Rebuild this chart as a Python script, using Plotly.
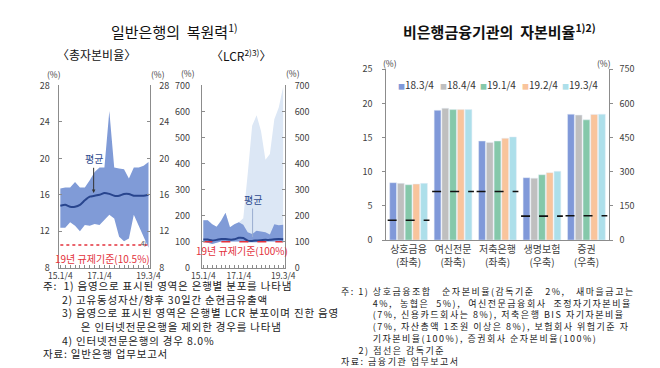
import plotly.graph_objects as go

W, H = 660, 368
def px(x): return x / W
def py(y): return 1 - y / H

FONT = "Noto Sans CJK KR, Noto Sans, sans-serif"
TICK_C = "#404040"
AXIS_C = "#8c8c8c"

# ---------------- data ----------------
quarters = ["15.1/4", "15.2/4", "15.3/4", "15.4/4", "16.1/4", "16.2/4", "16.3/4", "16.4/4",
            "17.1/4", "17.2/4", "17.3/4", "17.4/4", "18.1/4", "18.2/4", "18.3/4", "18.4/4",
            "19.1/4", "19.2/4", "19.3/4"]
quarter_ticks = ["15.1/4", "17.1/4", "19.3/4"]

# 총자본비율 (%)
car_max = [16.7, 16.8, 16.8, 17.4, 16.8, 16.8, 17.6, 18.5, 19.0, 19.0, 25.2, 19.0, 18.9, 18.8, 17.8, 19.0, 19.0, 19.2, 19.6]
car_min = [12.4, 12.4, 13.0, 12.6, 12.0, 12.7, 12.6, 12.8, 12.7, 13.3, 13.8, 13.4, 11.4, 10.9, 11.2, 13.8, 12.6, 11.4, 10.2]
car_mean = [14.8, 14.9, 14.7, 14.7, 14.9, 15.4, 15.8, 15.9, 16.0, 16.2, 16.1, 15.9, 15.9, 16.1, 16.1, 15.9, 15.9, 15.9, 16.0]
car_reg = 10.5

# LCR (%)
lcr_all_max = [182, 182, 167, 157, 180, 211, 155, 167, 175, 190, 360, 545, 585, 525, 415, 437, 570, 615, 695]
lcr_max = [182, 182, 167, 157, 180, 211, 155, 167, 175, 165, 136, 130, 142, 140, 136, 128, 167, 163, 165]
lcr_min = [101, 96, 91, 96, 101, 101, 101, 101, 101, 101, 98, 97, 98, 101, 101, 101, 101, 101, 101]
lcr_mean = [108, 108, 105, 107, 110, 110, 108, 109, 115, 114, 104, 103, 105, 106, 107, 107, 109, 110, 109]
lcr_reg = 100

# 비은행금융기관 자본비율
periods = ["18.3/4", "18.4/4", "19.1/4", "19.2/4", "19.3/4"]
bar_categories = ["상호금융", "여신전문", "저축은행", "생명보험", "증권"]
bar_axis_notes = ["(좌축)", "(좌축)", "(좌축)", "(우축)", "(우축)"]
bar_is_left = [True, True, True, False, False]
v_18_3 = [8.4, 19.0, 14.5, 274, 553]
v_18_4 = [8.3, 19.3, 14.3, 272, 549]
v_19_1 = [8.1, 19.1, 14.5, 287, 528]
v_19_2 = [8.2, 19.1, 14.9, 296, 552]
v_19_3 = [8.3, 19.1, 15.1, 302, 553]
bar_values = [v_18_3, v_18_4, v_19_1, v_19_2, v_19_3]
bar_standards = [2.9, 7.1, 7.1, 105, 107]
bar_colors = ["#8099d9", "#bfbfbf", "#85c8aa", "#f9c49c", "#addfea"]

BAND = "#809bd7"
LIGHT = "#dce7f5"
NAVY = "#28458e"
RED = "#e3323c"

xi = list(range(len(quarters)))
tick_idx = [quarters.index(q) for q in quarter_ticks]

fig = go.Figure()

# ---------------- panel 1 ----------------
fig.add_trace(go.Scatter(x=xi, y=car_min, mode="lines", line=dict(width=0), xaxis="x", yaxis="y",
                         showlegend=False, hoverinfo="skip"))
fig.add_trace(go.Scatter(x=xi, y=car_max, mode="lines", line=dict(width=0), fill="tonexty",
                         fillcolor=BAND, xaxis="x", yaxis="y", showlegend=False))
fig.add_trace(go.Scatter(x=xi, y=car_mean, mode="lines",
                         line=dict(color=NAVY, width=2, shape="spline", smoothing=0.5),
                         xaxis="x", yaxis="y", showlegend=False))
fig.add_trace(go.Scatter(x=[xi[0], xi[-1]], y=[car_reg, car_reg], mode="lines",
                         line=dict(color=RED, width=1.5, dash="dot"),
                         xaxis="x", yaxis="y2", showlegend=False))

# ---------------- panel 2 ----------------
fig.add_trace(go.Scatter(x=xi, y=lcr_min, mode="lines", line=dict(width=0), xaxis="x2", yaxis="y3",
                         showlegend=False, hoverinfo="skip"))
fig.add_trace(go.Scatter(x=xi, y=lcr_all_max, mode="lines", line=dict(width=0), fill="tonexty",
                         fillcolor=LIGHT, xaxis="x2", yaxis="y3", showlegend=False))
fig.add_trace(go.Scatter(x=xi, y=lcr_min, mode="lines", line=dict(width=0), xaxis="x2", yaxis="y3",
                         showlegend=False, hoverinfo="skip"))
fig.add_trace(go.Scatter(x=xi, y=lcr_max, mode="lines", line=dict(width=0), fill="tonexty",
                         fillcolor=BAND, xaxis="x2", yaxis="y3", showlegend=False))
fig.add_trace(go.Scatter(x=xi, y=lcr_mean, mode="lines",
                         line=dict(color=NAVY, width=2, shape="spline", smoothing=0.5),
                         xaxis="x2", yaxis="y3", showlegend=False))
fig.add_trace(go.Scatter(x=[xi[0], xi[-1]], y=[lcr_reg, lcr_reg], mode="lines",
                         line=dict(color=RED, width=1.5, dash="dash"),
                         xaxis="x2", yaxis="y4", showlegend=False))

# ---------------- panel 3 (bars) ----------------
cat_idx = list(range(len(bar_categories)))
for j, (p, vals) in enumerate(zip(periods, bar_values)):
    lx = [c for c in cat_idx if bar_is_left[c]]
    rx = [c for c in cat_idx if not bar_is_left[c]]
    fig.add_trace(go.Bar(x=lx, y=[vals[c] for c in lx], name=p, marker_color=bar_colors[j],
                         offsetgroup=str(j), xaxis="x3", yaxis="y5", showlegend=False))
    fig.add_trace(go.Bar(x=rx, y=[vals[c] for c in rx], name=p, marker_color=bar_colors[j],
                         offsetgroup=str(j), xaxis="x3", yaxis="y6", showlegend=False))

HALF = 0.47
for c in cat_idx:
    fig.add_trace(go.Scatter(x=[c - HALF, c + HALF], y=[bar_standards[c]] * 2, mode="lines",
                             line=dict(color="#111111", width=1.6, dash="dash"),
                             xaxis="x3", yaxis="y5" if bar_is_left[c] else "y6",
                             showlegend=False, hoverinfo="skip"))

# ---------------- axes ----------------
tickfont = dict(size=9, color=TICK_C, family=FONT)
xtickfont = dict(size=8.5, color=TICK_C, family=FONT)
def xq(domain, rng):
    return dict(domain=domain, range=rng, showline=True, linecolor=AXIS_C, linewidth=1,
                tickmode="array", tickvals=tick_idx, ticktext=quarter_ticks, ticks="inside",
                ticklen=3, tickcolor=AXIS_C, tickfont=xtickfont, showgrid=False, zeroline=False,
                minor=dict(tickmode="array", tickvals=xi, ticks="inside", ticklen=3, tickcolor=AXIS_C),
                fixedrange=True)
def yv(domain, rng, dtick, anchor, side="left", overlaying=None, ticks="inside", standoff=5):
    d = dict(domain=domain, range=rng, dtick=dtick, tick0=rng[0], showline=True, linecolor=AXIS_C,
             linewidth=1, ticks=ticks, ticklen=3, tickcolor=AXIS_C, tickfont=tickfont, showgrid=False,
             zeroline=False, anchor=anchor, side=side, ticklabelstandoff=standoff)
    if overlaying:
        d["overlaying"] = overlaying
    return d

ydom = [py(262), py(73)]
fig.update_layout(
    xaxis=xq([px(41), px(136)], [-0.35, 18.4]),
    yaxis=yv(ydom, [8, 28], 4, "x", standoff=6),
    yaxis2=yv(ydom, [8, 28], 4, "x", side="right", overlaying="y", standoff=6),
    xaxis2=xq([px(189), px(275)], [-0.37, 18.37]),
    yaxis3=yv(ydom, [0, 700], 100, "x2", standoff=9),
    yaxis4=yv(ydom, [0, 700], 100, "x2", side="right", overlaying="y3", standoff=7),
    xaxis3=dict(domain=[px(380), px(610)], range=[-0.5, 4.5], showline=True, linecolor=AXIS_C,
                tickmode="array", tickvals=cat_idx,
                ticktext=[f"{c}<br>{n}" for c, n in zip(bar_categories, bar_axis_notes)],
                ticks="", tickfont=dict(size=10, color=TICK_C, family=FONT), showgrid=False,
                zeroline=False, anchor="y5"),
    yaxis5=yv([py(233.3), py(56.3)], [0, 25], 5, "x3", ticks="outside", standoff=8),
    yaxis6=yv([py(233.3), py(56.3)], [0, 750], 150, "x3", side="right", overlaying="y5",
              ticks="outside", standoff=5),
    barmode="group", bargap=0.13, bargroupgap=0.12,
    width=W, height=H, margin=dict(l=0, r=0, t=0, b=0),
    paper_bgcolor="white", plot_bgcolor="rgba(0,0,0,0)",
    font=dict(family=FONT, color="#222222"),
    showlegend=False,
)

ann = []
def txt(x, y, text, size=10, color="#222222", xanchor="center", yanchor="middle", **kw):
    ann.append(dict(x=px(x), y=py(y), xref="paper", yref="paper", text=text, showarrow=False,
                    xanchor=xanchor, yanchor=yanchor, font=dict(size=size, color=color, family=FONT), **kw))

# titles
txt(161, 17, "일반은행의&nbsp;&nbsp;복원력<sup>1)</sup>", size=15, color="#111111")
txt(497, 17, "<b>비은행금융기관의&nbsp;&nbsp;자본비율<sup>1)2)</sup></b>", size=15, color="#111111")
txt(80, 41, "〈총자본비율〉", size=12, color="#111111")
txt(230, 41, "〈LCR<sup>2)3)</sup>〉", size=12, color="#111111")

# units
for x, y in [(36, 61), (144, 61), (175, 60), (283, 60), (384, 50), (605, 50)]:
    txt(x, y, "(%)", size=8.5, color=TICK_C)

# bar legend (manual)
leg_x = [390, 433, 475, 518, 560]
for j, p in enumerate(periods):
    txt(leg_x[j], 72, f"<span style='color:{bar_colors[j]};font-size:7px'>■</span>{p}",
        size=10, color="#333333", xanchor="left")

# panel annotations (axis coordinates)
ann.append(dict(x=8.7, y=9.05, xref="x", yref="y", text="19년 규제기준(10.5%)", showarrow=False,
                font=dict(size=10, color=RED, family=FONT)))
ann.append(dict(x=16.9, y=9.9, xref="x", yref="y", text="4)", showarrow=False, yanchor="bottom",
                font=dict(size=6, color="#333333", family=FONT)))
ann.append(dict(x=6.8, y=16.2, ax=6.8, ay=19.95, xref="x", yref="y", axref="x", ayref="y",
                text="평균", showarrow=True, arrowhead=2, arrowsize=0.7, arrowwidth=1,
                arrowcolor="#333333", font=dict(size=10, color="#2f4b8f", family=FONT)))
ann.append(dict(x=8.8, y=66, xref="x2", yref="y3", text="19년 규제기준(100%)", showarrow=False,
                font=dict(size=10, color=RED, family=FONT)))
ann.append(dict(x=11.1, y=118, ax=11.1, ay=262, xref="x2", yref="y3", axref="x2", ayref="y3",
                text="평균", showarrow=True, arrowhead=0, arrowwidth=1, standoff=0, startstandoff=0,
                arrowcolor="#9aaed0", font=dict(size=10, color="#2f4b8f", family=FONT)))

# notes
NB = "&nbsp;"
left_lines = [
    "주:" + NB * 2 + "1) 음영으로 표시된 영역은 은행별 분포를 나타냄",
    NB * 6 + "2) 고유동성자산/향후 30일간 순현금유출액",
    NB * 6 + "3) 음영으로 표시된 영역은 은행별 LCR 분포이며 진한 음영",
    NB * 12 + "은 인터넷전문은행을 제외한 경우를 나타냄",
    NB * 6 + "4) 인터넷전문은행의 경우 8.0%",
    "자료: 일반은행 업무보고서",
]
txt(23, 271, "<span style='letter-spacing:0.8px'>" + "<br>".join(left_lines) + "</span>", size=10.5,
    color="#222222", xanchor="left", yanchor="top", align="left")

right_lines = [
    "주: 1) 상호금융조합" + NB * 3 + "순자본비율(감독기준" + NB * 3 + "2%," + NB * 3 + "새마을금고는",
    NB * 9 + "4%," + NB * 2 + "농협은" + NB * 2 + "5%)," + NB * 2 + "여신전문금융회사" + NB * 2 + "조정자기자본비율",
    NB * 9 + "(7%, 신용카드회사는 8%), 저축은행 BIS 자기자본비율",
    NB * 9 + "(7%, 자산총액 1조원 이상은 8%), 보험회사 위험기준 자",
    NB * 9 + "기자본비율(100%), 증권회사 순자본비율(100%)",
    NB * 5 + "2) 점선은 감독기준",
    "자료: 금융기관 업무보고서",
]
txt(331, 277.5, "<span style='letter-spacing:1.5px'>" + "<br>".join(right_lines) + "</span>", size=9,
    color="#222222", xanchor="left", yanchor="top", align="left")

fig.update_layout(annotations=ann)
fig.write_html("out.html")
